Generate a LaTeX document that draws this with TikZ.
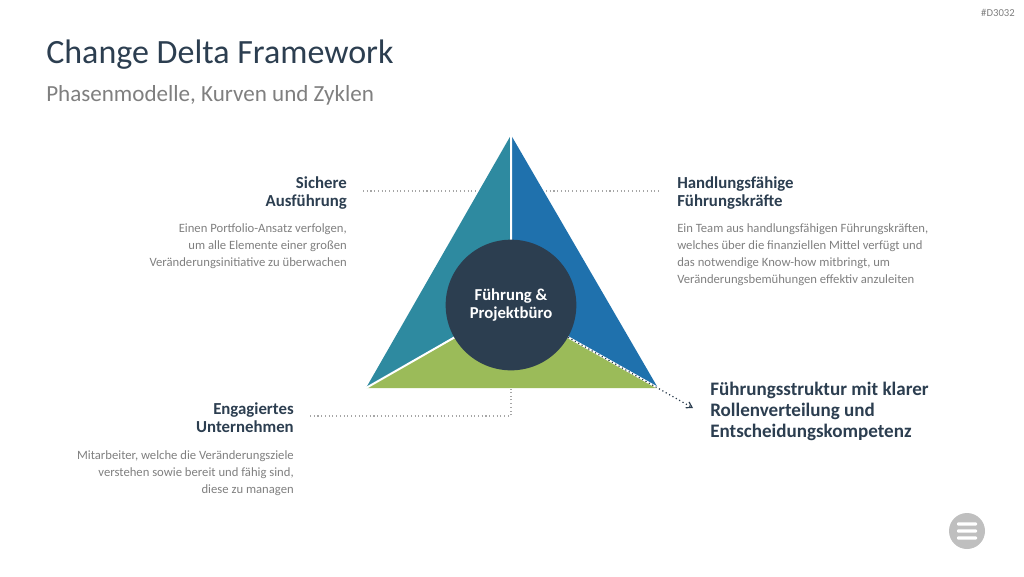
\documentclass[tikz,border=0pt]{standalone}
\usepackage{fontspec}
\setmainfont{Carlito}
\usetikzlibrary{positioning, calc, arrows.meta}

\definecolor{darkslate}{HTML}{2C3E50}
\definecolor{tealblue}{HTML}{2E8AA0}
\definecolor{oceanblue}{HTML}{1F71AD}
\definecolor{leafgreen}{HTML}{9BBB59}
\definecolor{textgray}{HTML}{7F7F7F}
\definecolor{leadergray}{HTML}{A6A6A6}
\definecolor{menugray}{HTML}{BFBFBF}

\tikzset{
  heading/.style={font=\bfseries\fontsize{12.6}{13.5}\selectfont, text=darkslate, inner sep=0pt},
  desc/.style={font=\fontsize{9.5}{12.75}\selectfont, text=textgray, inner sep=0pt},
  leader/.style={leadergray, dotted, line width=0.8pt},
}

\begin{document}
\begin{tikzpicture}[x=0.75pt, y=-0.75pt]
        % Canvas
        \useasboundingbox (0,0) rectangle (1024,576);

        % Title and subtitle
        \node[anchor=west, inner sep=0pt, font=\fontsize{25.5}{30}\selectfont, text=darkslate] (title) at (46,55) {Change Delta Framework};
        \node[anchor=west, inner sep=0pt, font=\fontsize{17.3}{20}\selectfont, text=textgray] (subtitle) at (46,95) {Phasenmodelle, Kurven und Zyklen};
        \node[anchor=east, inner sep=0pt, font=\fontsize{8}{9}\selectfont, text=textgray] (slideid) at (1015,13) {\#D3032};

        % Triangle corners
        \coordinate (apex) at (511,135);
        \coordinate (lcorner) at (366,388);
        \coordinate (rcorner) at (658,388);
        \coordinate (mid) at (511,305);

        % Three segments
        \fill[tealblue] (apex) -- (lcorner) -- (mid) -- cycle;
        \fill[oceanblue] (apex) -- (mid) -- (rcorner) -- cycle;
        \fill[leafgreen] (lcorner) -- (rcorner) -- (mid) -- cycle;
        \draw[white, line width=1.5pt] (apex) -- (mid) (lcorner) -- (mid) (rcorner) -- (mid);

        % Center circle
        \node[circle, fill=darkslate, minimum size=98pt, inner sep=0pt, align=center, text=white,
              font=\bfseries\fontsize{12.5}{13.5}\selectfont] (hub) at (mid) {Führung \&\\Projektbüro};

        % Dotted arrow to the structure label
        \coordinate (arrowtip) at (693,408);
        \draw[darkslate, dotted, line width=0.9pt, -{Straight Barb[length=4pt, width=5pt]}] (hub) -- (arrowtip);

        % Labels
        \node[heading, anchor=north east, align=right] (sicher) at (347,176) {Sichere\\Ausführung};
        \node[desc, anchor=north east, align=right] (sicherdesc) at (347,223) {Einen Portfolio-Ansatz verfolgen,\\um alle Elemente einer großen\\Veränderungsinitiative zu überwachen};

        \node[heading, anchor=north west, align=left] (handlung) at (677,176) {Handlungsfähige\\Führungskräfte};
        \node[desc, anchor=north west, align=left] (handlungdesc) at (677,223) {Ein Team aus handlungsfähigen Führungskräften,\\welches über die finanziellen Mittel verfügt und\\das notwendige Know-how mitbringt, um\\Veränderungsbemühungen effektiv anzuleiten};

        \node[heading, anchor=north east, align=right] (engagiert) at (294,402) {Engagiertes\\Unternehmen};
        \node[desc, anchor=north east, align=right] (engagiertdesc) at (294,450) {Mitarbeiter, welche die Veränderungsziele\\verstehen sowie bereit und fähig sind,\\diese zu managen};

        \node[anchor=north west, align=left, inner sep=0pt, text=darkslate, font=\bfseries\fontsize{14.3}{15.75}\selectfont] (struktur) at (710,382) {Führungsstruktur mit klarer\\Rollenverteilung und\\Entscheidungskompetenz};

        % Leader lines
        \coordinate (sicherend) at (477,191);
        \coordinate (handlungstart) at (546,191);
        \coordinate (engagiertbend) at (511,416);
        \coordinate (engagiertend) at (511,389);
        \draw[leader] ($(sicher.north east)+(16,15)$) -- (sicherend);
        \draw[leader] (handlungstart) -- ($(handlung.north west)+(-17,15)$);
        \draw[leader] ($(engagiert.north east)+(16,14)$) -- (engagiertbend) -- (engagiertend);

        % Menu button
        \fill[menugray] (967,531) circle (13.5pt);
        \foreach \dy in {-7,0,7}
          \fill[white, rounded corners=0.8pt] (957,531+\dy-1.6) rectangle (977,531+\dy+1.6);
\end{tikzpicture}
\end{document}
